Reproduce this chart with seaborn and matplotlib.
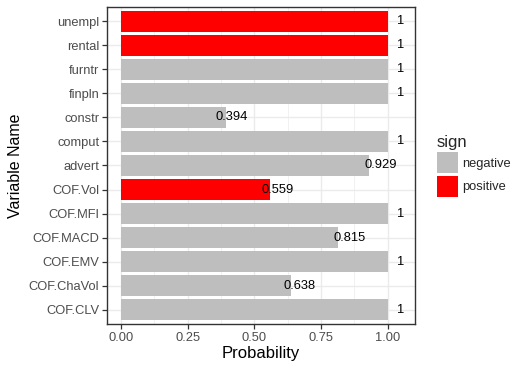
import pandas as pd
import matplotlib
matplotlib.use('Agg')
import matplotlib.pyplot as plt
import seaborn as sns
from matplotlib.patches import Patch
from matplotlib.ticker import MultipleLocator

# Chart data
variables = ['unempl', 'rental', 'furntr', 'finpln', 'constr', 'comput', 'advert',
             'COF.Vol', 'COF.MFI', 'COF.MACD', 'COF.EMV', 'COF.ChaVol', 'COF.CLV']
probability = [1, 1, 1, 1, 0.394, 1, 0.929, 0.559, 1, 0.815, 1, 0.638, 1]
sign = ['positive', 'positive', 'negative', 'negative', 'negative', 'negative', 'negative',
        'positive', 'negative', 'negative', 'negative', 'negative', 'negative']
sign_levels = ['negative', 'positive']
sign_colors = {'negative': '#BEBEBE', 'positive': '#FF0000'}

df = pd.DataFrame({'Variable': variables, 'Probability': probability, 'sign': sign})

sns.set_style('white')
plt.rcParams['font.family'] = ['Liberation Sans', 'DejaVu Sans']

fig = plt.figure(figsize=(5.24, 3.73), dpi=100)
W, H = 524, 373
ax = fig.add_axes([107 / W, (H - 324) / H, (415 - 107) / W, (324 - 7) / H])

sns.barplot(data=df, x='Probability', y='Variable', hue='sign', hue_order=sign_levels,
            palette=sign_colors, order=variables, orient='h', width=0.9, dodge=False,
            saturation=1, linewidth=0, legend=False, ax=ax, zorder=3)

# Value labels, placed a little beyond the value like the original
for i, v in enumerate(probability):
    ax.text(v * 1.05, i, f'{v:g}', ha='center', va='center', fontsize=9.3,
            color='black', zorder=4)

ax.set_xlim(-0.0525, 1.1025)
ax.set_ylim(len(variables) - 0.4, -0.6)
ax.xaxis.set_minor_locator(MultipleLocator(0.125))
ax.set_xticks([0, 0.25, 0.5, 0.75, 1.0])
ax.set_xticklabels(['0.00', '0.25', '0.50', '0.75', '1.00'])

ax.set_axisbelow(True)
ax.grid(True, which='major', color='#EBEBEB', linewidth=1.0, zorder=0)
ax.grid(True, which='minor', axis='x', color='#EBEBEB', linewidth=0.5, zorder=0)
for s in ax.spines.values():
    s.set_color('#333333')
    s.set_linewidth(1.0)

ax.tick_params(axis='both', which='major', length=3.5, width=0.9, color='#333333',
               labelsize=9.3, labelcolor='#4D4D4D', pad=2, bottom=True, left=True)
ax.tick_params(axis='both', which='minor', length=0)

ax.set_xlabel('Probability', fontsize=12, color='black', labelpad=2)
ax.set_ylabel('Variable Name', fontsize=11.5, color='black', labelpad=4)

handles = [Patch(facecolor=sign_colors[s], edgecolor='none') for s in sign_levels]
leg = fig.legend(handles, sign_levels, title='sign', loc='upper left',
                 bbox_to_anchor=(437 / W, 1 - 135 / H), frameon=False,
                 fontsize=9.3, title_fontsize=12, handlelength=1.63, handleheight=2.13,
                 handletextpad=0.35, labelspacing=0.18, borderpad=0, borderaxespad=0)
leg._legend_box.align = 'left'

fig.savefig('out.png', dpi=100)
plt.close(fig)
